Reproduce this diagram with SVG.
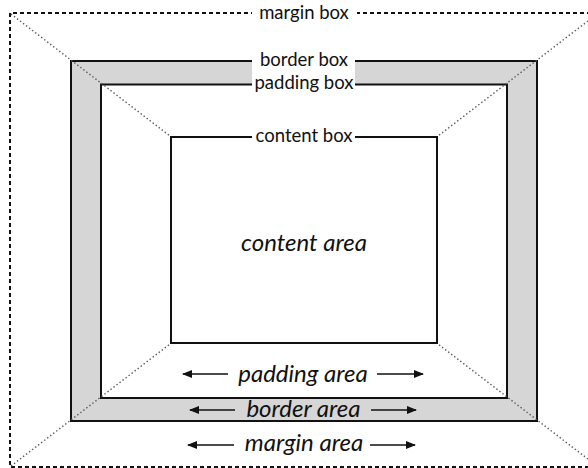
<svg xmlns="http://www.w3.org/2000/svg" width="588" height="468" viewBox="0 0 588 468">
<defs>
<style>
.lbl{font-family:Lato,"Open Sans","Liberation Sans",sans-serif;font-size:18.5px;fill:#111;text-anchor:middle}
.area{font-family:Lato,"Open Sans","Liberation Sans",sans-serif;font-size:24px;font-style:italic;fill:#111;text-anchor:middle}
.box{fill:none;stroke:#111;stroke-width:2}
.diag{stroke:#555;stroke-width:1.4;stroke-dasharray:1.4,2.4;fill:none}
.arr{stroke:#111;stroke-width:1.7;fill:none;marker-end:url(#ah)}
</style>
<marker id="ah" markerWidth="10" markerHeight="8" refX="9" refY="4" orient="auto" markerUnits="userSpaceOnUse">
<path d="M0,0 L10,4 L0,8 Z" fill="#111"/>
</marker>
</defs>
<rect width="588" height="468" fill="#fff"/>
<g id="margin-box">
<path d="M598,13 H10 V467 H598" fill="none" stroke="#111" stroke-width="2" stroke-dasharray="4,3"/>
</g>
<g id="border-box">
<path d="M71,61 H537 V421 H71 Z M101,84.5 V398 H507 V84.5 Z" fill="#d6d6d6" fill-rule="evenodd"/>
<rect class="box" x="71" y="61" width="466" height="360"/>
</g>
<g id="padding-box">
<rect x="101" y="84.5" width="406" height="313.5" fill="#fff"/>
<rect class="box" x="101" y="84.5" width="406" height="313.5"/>
</g>
<g id="content-box">
<rect class="box" x="171" y="137" width="266" height="206" fill="#fff"/>
</g>
<g id="connectors">
<line class="diag" x1="11" y1="14" x2="170" y2="136"/>
<line class="diag" x1="597" y1="14" x2="438" y2="136"/>
<line class="diag" x1="11" y1="466" x2="170" y2="344"/>
<line class="diag" x1="597" y1="466" x2="438" y2="344"/>
</g>
<g id="labels">
<rect x="252" y="6" width="105" height="14" fill="#fff"/>
<text class="lbl" x="304" y="18.5">margin box</text>
<rect x="252" y="58" width="103" height="28" fill="#fff"/>
<text class="lbl" x="304" y="65.5">border box</text>
<text class="lbl" x="304" y="88.5">padding box</text>
<rect x="252" y="134" width="103" height="6" fill="#fff"/>
<text class="lbl" x="304" y="142">content box</text>
</g>
<g id="content-area">
<text class="area" x="304" y="251">content area</text>
</g>
<g id="padding-area">
<text class="area" x="303" y="382">padding area</text>
<line class="arr" x1="228" y1="374" x2="183" y2="374"/>
<line class="arr" x1="377" y1="374" x2="423" y2="374"/>
</g>
<g id="border-area">
<text class="area" x="303.5" y="417">border area</text>
<line class="arr" x1="235" y1="410" x2="190" y2="410"/>
<line class="arr" x1="371" y1="410" x2="416" y2="410"/>
</g>
<g id="margin-area">
<text class="area" x="304" y="451">margin area</text>
<line class="arr" x1="234" y1="445" x2="188" y2="445"/>
<line class="arr" x1="370" y1="445" x2="415" y2="445"/>
</g>
</svg>
